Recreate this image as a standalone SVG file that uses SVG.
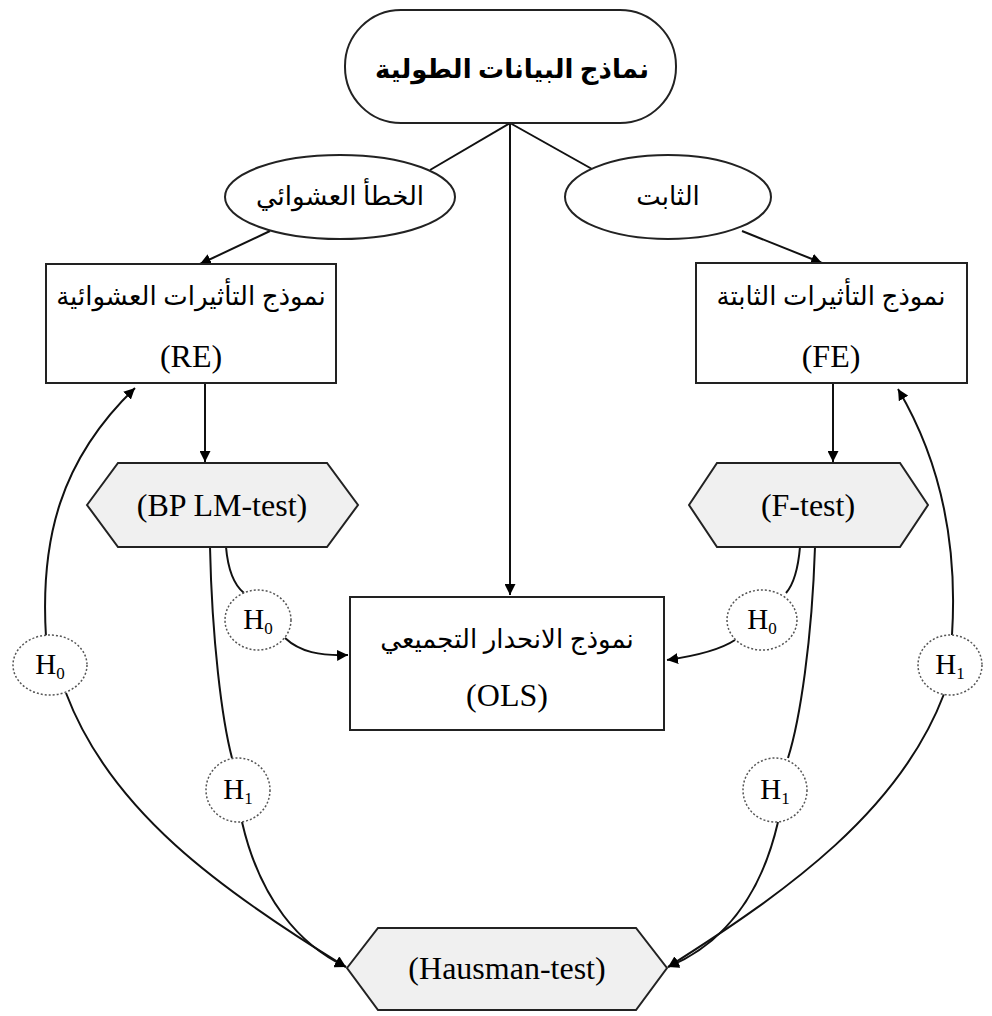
<svg xmlns="http://www.w3.org/2000/svg" width="992" height="1016" viewBox="0 0 992 1016">
<defs>
<marker id="ah" viewBox="0 0 10 10" refX="10" refY="5" markerWidth="11" markerHeight="11" markerUnits="userSpaceOnUse" orient="auto">
<path d="M0,0 L10,5 L0,10 z" fill="#000"/>
</marker>
<style>
.shape{fill:#fff;stroke:#222;stroke-width:2}
.hex{fill:#f0f0f0;stroke:#222;stroke-width:2}
.lbl{fill:#fff;stroke:#555;stroke-width:1.5;stroke-dasharray:2 2}
.ln{fill:none;stroke:#111;stroke-width:2}
.ar{font-family:"Liberation Serif","DejaVu Sans",serif;font-size:26px;fill:#000;text-anchor:middle}
.lat{font-family:"Liberation Serif",serif;font-size:32px;fill:#000;text-anchor:middle}
.h{font-family:"Liberation Serif",serif;font-size:29px;fill:#000;text-anchor:middle}
</style>
</defs>
<rect width="992" height="1016" fill="#fff"/>
<g id="connectors">
<line class="ln" x1="510" y1="123" x2="430" y2="170"/>
<line class="ln" x1="510" y1="123" x2="592" y2="169"/>
<line class="ln" x1="510" y1="123" x2="510" y2="595" marker-end="url(#ah)"/>
<line class="ln" x1="270" y1="231" x2="200" y2="264" marker-end="url(#ah)"/>
<line class="ln" x1="742" y1="231" x2="822" y2="263" marker-end="url(#ah)"/>
<line class="ln" x1="205" y1="383" x2="205" y2="462" marker-end="url(#ah)"/>
<line class="ln" x1="833" y1="383" x2="833" y2="462" marker-end="url(#ah)"/>
<path class="ln" d="M46,637 C40,540 60,460 135,388" marker-end="url(#ah)"/>
<path class="ln" d="M66,693 C110,810 220,890 346,967" marker-end="url(#ah)"/>
<path class="ln" d="M226,547 C228,570 234,585 244,593"/>
<path class="ln" d="M285,638 C300,652 320,656 348,655" marker-end="url(#ah)"/>
<path class="ln" d="M210,547 C212,640 222,720 232,758"/>
<path class="ln" d="M242,822 C260,900 300,945 346,967" marker-end="url(#ah)"/>
<path class="ln" d="M800,547 C798,570 793,585 786,593"/>
<path class="ln" d="M735,640 C720,650 695,656 667,660" marker-end="url(#ah)"/>
<path class="ln" d="M815,547 C812,640 800,720 788,758"/>
<path class="ln" d="M778,822 C760,900 720,945 668,967" marker-end="url(#ah)"/>
<path class="ln" d="M952,635 C958,540 940,460 898,389" marker-end="url(#ah)"/>
<path class="ln" d="M944,694 C900,810 790,890 668,967" marker-end="url(#ah)"/>
</g>
<g id="root">
<rect class="shape" x="345" y="10" width="331" height="113" rx="56" ry="56"/>
<text class="ar" x="512" y="78" font-weight="bold" font-size="27">نماذج البيانات الطولية</text>
</g>
<g id="random-error">
<ellipse class="shape" cx="340" cy="197" rx="115" ry="42"/>
<text class="ar" x="340" y="205">الخطأ العشوائي</text>
</g>
<g id="fixed">
<ellipse class="shape" cx="668" cy="197" rx="103" ry="42"/>
<text class="ar" x="668" y="205">الثابت</text>
</g>
<g id="re">
<rect class="shape" x="46" y="264" width="290" height="119"/>
<text class="ar" x="191" y="305">نموذج التأثيرات العشوائية</text>
<text class="lat" x="191" y="367">(RE)</text>
</g>
<g id="fe">
<rect class="shape" x="696" y="263" width="271" height="120"/>
<text class="ar" x="831" y="305">نموذج التأثيرات الثابتة</text>
<text class="lat" x="831" y="367">(FE)</text>
</g>
<g id="bp">
<polygon class="hex" points="87,505 118,463 327,463 358,505 327,547 118,547"/>
<text class="lat" x="222" y="516">(BP LM-test)</text>
</g>
<g id="ftest">
<polygon class="hex" points="689,505 717,463 900,463 928,505 900,547 717,547"/>
<text class="lat" x="808" y="516">(F-test)</text>
</g>
<g id="ols">
<rect class="shape" x="350" y="597" width="314" height="133"/>
<text class="ar" x="507" y="648">نموذج الانحدار التجميعي</text>
<text class="lat" x="507" y="706">(OLS)</text>
</g>
<g id="hausman">
<polygon class="hex" points="347,968 378,928 636,928 667,968 636,1010 378,1010"/>
<text class="lat" x="507" y="979">(Hausman-test)</text>
</g>
<g id="h0-left">
<ellipse class="lbl" cx="50" cy="665" rx="37" ry="30"/>
<text class="h" x="50" y="674">H<tspan font-size="17" dy="5">0</tspan></text>
</g>
<g id="h0-bp">
<ellipse class="lbl" cx="258" cy="620" rx="33" ry="30"/>
<text class="h" x="258" y="629">H<tspan font-size="17" dy="5">0</tspan></text>
</g>
<g id="h1-bp">
<ellipse class="lbl" cx="238" cy="790" rx="32" ry="32"/>
<text class="h" x="238" y="799">H<tspan font-size="17" dy="5">1</tspan></text>
</g>
<g id="h0-f">
<ellipse class="lbl" cx="762" cy="620" rx="35" ry="30"/>
<text class="h" x="762" y="629">H<tspan font-size="17" dy="5">0</tspan></text>
</g>
<g id="h1-f">
<ellipse class="lbl" cx="775" cy="790" rx="32" ry="32"/>
<text class="h" x="775" y="799">H<tspan font-size="17" dy="5">1</tspan></text>
</g>
<g id="h1-right">
<ellipse class="lbl" cx="950" cy="665" rx="32" ry="30"/>
<text class="h" x="950" y="674">H<tspan font-size="17" dy="5">1</tspan></text>
</g>
</svg>
